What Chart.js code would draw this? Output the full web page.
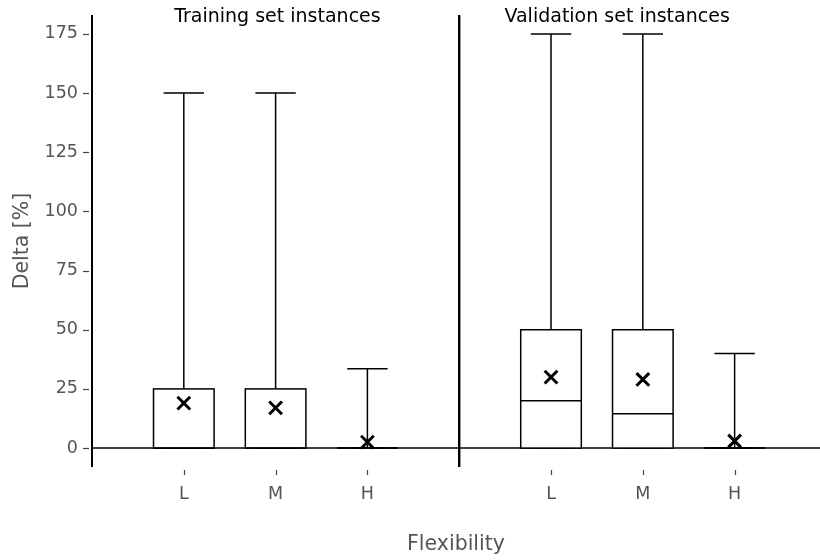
<!DOCTYPE html>
<html>
<head>
<meta charset="utf-8">
<title>Delta by flexibility</title>
<script src="https://cdn.jsdelivr.net/npm/chart.js@4/dist/chart.umd.min.js"></script>
<style>
  html, body { margin: 0; padding: 0; background: #ffffff; }
  #wrap { width: 820px; height: 560px; }
</style>
</head>
<body>
<div id="wrap"><canvas id="chart" width="820" height="560"></canvas></div>
<script>
// Panels and flexibility levels
const setNames = ['Training set instances', 'Validation set instances'];
const levels = ['L', 'M', 'H'];

// Box statistics per panel, one entry per level (Delta in %)
const whiskerLow  = [[0, 0, 0], [0, 0, 0]];
const q1          = [[0, 0, 0], [0, 0, 0]];
const median      = [[0, 0, 0], [20, 14.5, 0]];
const q3          = [[25, 25, 0], [50, 50, 0]];
const whiskerHigh = [[150, 150, 33.5], [175, 175, 40]];
const means       = [[19, 17, 2.5], [30, 29, 3]];

// Axis ticks
const yTicks = [0, 25, 50, 75, 100, 125, 150, 175];

// Each panel occupies four x units: levels sit at 1..3 inside it
const panelWidth = 4;
const posOf = (p, i) => p * panelWidth + i + 1;

const tickPositions = [];
const tickText = {};
setNames.forEach((_, p) => levels.forEach((lv, i) => {
  tickPositions.push(posOf(p, i));
  tickText[posOf(p, i)] = lv;
}));

const meanPoints = [];
setNames.forEach((_, p) => levels.forEach((_, i) => {
  meanPoints.push({ x: posOf(p, i), y: means[p][i] });
}));

const FONT = '"DejaVu Sans", "Liberation Sans", sans-serif';
const GREY = '#555555';

const boxPlot = {
  id: 'boxPlot',
  beforeDatasetsDraw(chart) {
    const { ctx, chartArea, scales: { x, y } } = chart;
    ctx.save();

    // spines
    ctx.strokeStyle = '#000';
    ctx.lineWidth = 2;
    ctx.beginPath();
    ctx.moveTo(chartArea.left, chartArea.top);
    ctx.lineTo(chartArea.left, chartArea.bottom);
    ctx.stroke();

    ctx.lineWidth = 1.6;
    const y0 = y.getPixelForValue(0);
    ctx.beginPath();
    ctx.moveTo(chartArea.left, y0);
    ctx.lineTo(chartArea.right, y0);
    ctx.stroke();

    // panel divider
    const xd = x.getPixelForValue(panelWidth);
    ctx.lineWidth = 2.4;
    ctx.beginPath();
    ctx.moveTo(xd, chartArea.top);
    ctx.lineTo(xd, chartArea.bottom);
    ctx.stroke();

    // tick marks
    ctx.strokeStyle = '#444';
    ctx.lineWidth = 1.2;
    yTicks.forEach(v => {
      const py = Math.round(y.getPixelForValue(v)) + 0.5;
      ctx.beginPath();
      ctx.moveTo(chartArea.left - 9, py);
      ctx.lineTo(chartArea.left - 3, py);
      ctx.stroke();
    });
    tickPositions.forEach(v => {
      const px = Math.round(x.getPixelForValue(v)) + 0.5;
      ctx.beginPath();
      ctx.moveTo(px, chartArea.bottom + 3);
      ctx.lineTo(px, chartArea.bottom + 8);
      ctx.stroke();
    });

    // boxes and whiskers
    const boxHalf = 0.33, capHalf = 0.22;
    ctx.strokeStyle = '#000';
    ctx.lineWidth = 1.5;
    setNames.forEach((_, p) => levels.forEach((_, i) => {
      const c = posOf(p, i);
      const xl = x.getPixelForValue(c - boxHalf);
      const xr = x.getPixelForValue(c + boxHalf);
      const xc = x.getPixelForValue(c);
      const cl = x.getPixelForValue(c - capHalf);
      const cr = x.getPixelForValue(c + capHalf);
      const yq1 = y.getPixelForValue(q1[p][i]);
      const yq3 = y.getPixelForValue(q3[p][i]);
      const ymed = y.getPixelForValue(median[p][i]);
      const ylo = y.getPixelForValue(whiskerLow[p][i]);
      const yhi = y.getPixelForValue(whiskerHigh[p][i]);

      ctx.beginPath();
      ctx.moveTo(xc, yq3); ctx.lineTo(xc, yhi);
      ctx.moveTo(cl, yhi); ctx.lineTo(cr, yhi);
      ctx.moveTo(xc, yq1); ctx.lineTo(xc, ylo);
      ctx.moveTo(cl, ylo); ctx.lineTo(cr, ylo);
      ctx.stroke();

      ctx.fillStyle = '#fff';
      ctx.fillRect(xl, yq3, xr - xl, yq1 - yq3);
      ctx.strokeRect(xl, yq3, xr - xl, yq1 - yq3);

      ctx.beginPath();
      ctx.moveTo(xl, ymed); ctx.lineTo(xr, ymed);
      ctx.stroke();
    }));

    // panel titles
    ctx.fillStyle = '#000';
    ctx.font = '19px ' + FONT;
    ctx.textAlign = 'center';
    ctx.textBaseline = 'middle';
    const titleX = [2.02, 5.72];
    setNames.forEach((name, p) => {
      ctx.fillText(name, x.getPixelForValue(titleX[p]), 17);
    });

    ctx.restore();
  }
};

new Chart(document.getElementById('chart'), {
  type: 'scatter',
  data: {
    datasets: [{
      label: 'Mean',
      data: meanPoints,
      pointStyle: 'crossRot',
      pointRadius: 9,
      pointHoverRadius: 9,
      borderColor: '#000',
      backgroundColor: '#000',
      pointBorderWidth: 3,
      clip: false
    }]
  },
  options: {
    responsive: false,
    animation: false,
    devicePixelRatio: 1,
    layout: { autoPadding: false, padding: { top: 15, right: 0, left: 0, bottom: 0 } },
    plugins: { legend: { display: false }, tooltip: { enabled: false } },
    scales: {
      x: {
        type: 'linear',
        min: 0,
        max: 7.93,
        grid: { display: false, drawTicks: false },
        border: { display: false },
        afterBuildTicks(scale) { scale.ticks = tickPositions.map(v => ({ value: v })); },
        afterFit(scale) {
          scale.height = 93;
          scale.paddingLeft = 0;
          scale.paddingRight = 0;
        },
        ticks: {
          autoSkip: false,
          maxRotation: 0,
          padding: 17,
          color: GREY,
          font: { family: FONT, size: 17.5 },
          callback: v => tickText[v] || ''
        },
        title: {
          display: true,
          text: 'Flexibility',
          color: GREY,
          font: { family: FONT, size: 20.5 },
          padding: { top: 0, bottom: 3 }
        }
      },
      y: {
        min: -8,
        max: 183,
        grid: { display: false, drawTicks: false },
        border: { display: false },
        afterBuildTicks(scale) { scale.ticks = yTicks.map(v => ({ value: v })); },
        afterFit(scale) {
          scale.width = 92;
          scale.paddingTop = 0;
          scale.paddingBottom = 0;
        },
        ticks: {
          padding: 14,
          color: GREY,
          font: { family: FONT, size: 17.5 }
        },
        title: {
          display: true,
          text: 'Delta [%]',
          color: GREY,
          font: { family: FONT, size: 20.5 },
          padding: { top: 10, bottom: 0 }
        }
      }
    }
  },
  plugins: [boxPlot]
});
</script>
</body>
</html>
